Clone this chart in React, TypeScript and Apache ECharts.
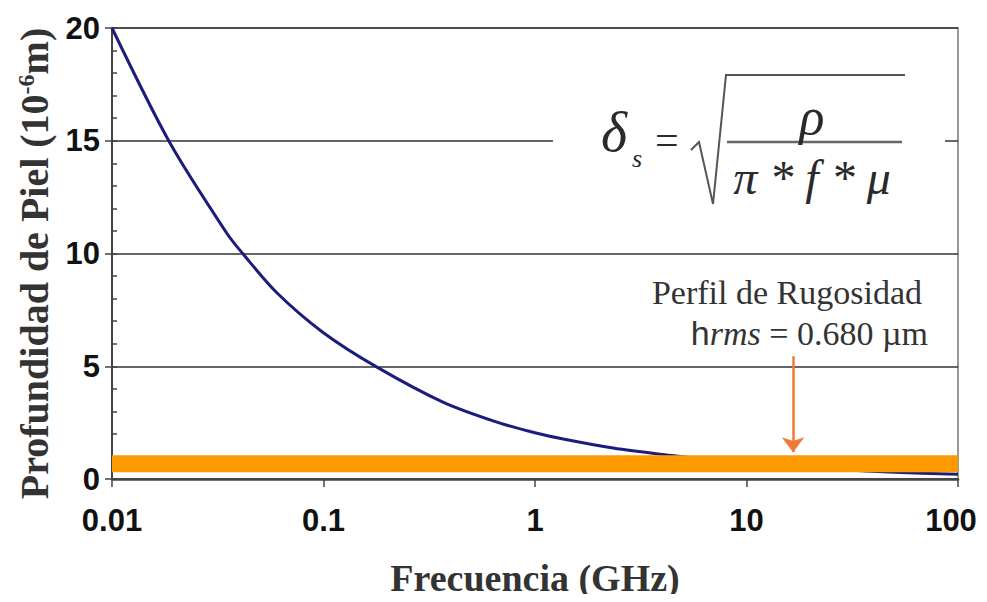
import React, { useEffect, useRef } from "react";
import * as echarts from "echarts";

// Frequency (GHz) and skin depth (10^-6 m) along the plotted curve
const frequencyGHz = [0.01, 0.0188, 0.0349, 0.0415, 0.06, 0.0995, 0.179, 0.367, 0.661, 1.0, 1.36, 2.34, 3.9, 10, 27, 50, 100];
const skinDepth = [20, 14.9, 10.9, 10.0, 8.27, 6.5, 4.96, 3.41, 2.52, 2.05, 1.77, 1.37, 1.1, 0.68, 0.42, 0.3, 0.21];

// Roughness profile level (µm) drawn as a horizontal band
const roughnessRange = [0.01, 100];
const roughnessLevel = 0.68;

// Arrow pointing at the roughness band
const arrowFreq = 16.6;
const arrowFrom = 5.44;
const arrowTo = 1.19;

const xTickLabels = ["0.01", "0.1", "1", "10", "100"];
const yTicks = [0, 5, 10, 15, 20];

const App: React.FC = () => {
  const ref = useRef<HTMLDivElement>(null);

  useEffect(() => {
    if (!ref.current) return;
    const chart = echarts.init(ref.current, undefined, { renderer: "svg" });

    const curve = frequencyGHz.map((f, i) => [f, skinDepth[i]]);
    const band = roughnessRange.map((f) => [f, roughnessLevel]);

    const serif = "'Liberation Serif', 'Times New Roman', serif";
    const sans = "'Liberation Sans', Arial, sans-serif";
    const tickFont = { fontFamily: sans, fontWeight: "bold", fontSize: 31, color: "#111" };

    chart.setOption({
      animation: false,
      backgroundColor: "#ffffff",
      grid: {
        left: 112,
        right: 29,
        top: 28,
        bottom: 122,
        show: true,
        borderColor: "#7a7a7a",
        borderWidth: 1.5,
      },
      xAxis: {
        type: "log",
        logBase: 10,
        min: 0.01,
        max: 100,
        name: "Frecuencia (GHz)",
        nameLocation: "middle",
        nameGap: 80,
        nameTextStyle: { fontFamily: serif, fontWeight: "bold", fontSize: 38, color: "#333" },
        axisLine: { show: true, lineStyle: { color: "#444", width: 2.5 } },
        axisTick: { show: true, inside: false, length: 8, lineStyle: { color: "#444", width: 1.5 } },
        minorTick: { show: false },
        splitLine: { show: false },
        axisLabel: {
          margin: 26,
          ...tickFont,
          formatter: (v: number) => {
            const i = Math.round(Math.log10(v)) + 2;
            // last label sits a little inside the right edge
            return i === xTickLabels.length - 1 ? `{r|${xTickLabels[i]}}` : `{n|${xTickLabels[i]}}`;
          },
          rich: {
            n: { ...tickFont },
            r: { ...tickFont, padding: [0, 14, 0, 0] },
          },
        },
      },
      yAxis: [
        {
          type: "value",
          min: yTicks[0],
          max: yTicks[yTicks.length - 1],
          interval: 5,
          name: "{a|Profundidad de Piel (10}{b|-6}{a|m)}",
          nameLocation: "middle",
          nameGap: 54,
          nameRotate: 90,
          nameTextStyle: {
            padding: [0, 20, 0, 0],
            rich: {
              a: { fontFamily: serif, fontWeight: "bold", fontSize: 40, color: "#333" },
              b: { fontFamily: serif, fontWeight: "bold", fontSize: 24, color: "#333", verticalAlign: "top", padding: [0, 0, 18, 0] },
            },
          },
          axisLine: { show: true, lineStyle: { color: "#444", width: 2 } },
          axisTick: { show: true, inside: false, length: 7, lineStyle: { color: "#444", width: 1.5 } },
          splitLine: { show: true, lineStyle: { color: "#333", width: 1.6 } },
          axisLabel: { margin: 12, ...tickFont },
        },
        {
          // unit minor ticks drawn on the inner side of the vertical axis
          type: "value",
          position: "left",
          min: 0,
          max: 20,
          interval: 1,
          axisLine: { show: false },
          axisTick: { show: true, inside: true, length: 5, lineStyle: { color: "#444", width: 1.5 } },
          axisLabel: { show: false },
          splitLine: { show: false },
        },
      ],
      series: [
        {
          type: "line",
          name: "rugosidad",
          data: band,
          symbol: "none",
          z: 3,
          lineStyle: { color: "#ff9900", width: 17, cap: "butt" },
          markLine: {
            silent: true,
            symbol: ["none", "arrow"],
            symbolSize: [17, 15],
            label: { show: false },
            lineStyle: { color: "#f07a35", width: 2.5, type: "solid" },
            data: [[{ coord: [arrowFreq, arrowFrom] }, { coord: [arrowFreq, arrowTo] }]],
          },
        },
        {
          type: "line",
          name: "profundidad",
          data: curve,
          symbol: "none",
          smooth: 0.3,
          z: 2,
          lineStyle: { color: "#1c1c7c", width: 3 },
        },
      ],
      graphic: [
        // white box that holds the skin-depth formula
        { type: "rect", shape: { x: 553, y: 134, width: 392, height: 14 }, style: { fill: "#ffffff" }, z: 10 },
        { type: "text", x: 601, y: 132, style: { text: "δ", font: `italic 56px ${serif}`, fill: "#2a2a2a", verticalAlign: "middle" }, z: 11 },
        { type: "text", x: 632, y: 158, style: { text: "s", font: `italic 26px ${serif}`, fill: "#2a2a2a", verticalAlign: "middle" }, z: 11 },
        { type: "text", x: 655, y: 140, style: { text: "=", font: `42px ${serif}`, fill: "#2a2a2a", verticalAlign: "middle" }, z: 11 },
        {
          type: "polyline",
          shape: { points: [[691, 150], [699, 142], [713, 204], [726, 75], [905, 75]] },
          style: { stroke: "#555", lineWidth: 2, fill: "none" },
          z: 11,
        },
        { type: "line", shape: { x1: 727, y1: 142, x2: 902, y2: 142 }, style: { stroke: "#666", lineWidth: 2.5 }, z: 11 },
        { type: "text", x: 812, y: 116, style: { text: "ρ", font: `italic 52px ${serif}`, fill: "#2a2a2a", align: "center", verticalAlign: "middle" }, z: 11 },
        { type: "text", x: 812, y: 177, style: { text: "π * f * μ", font: `italic 48px ${serif}`, fill: "#2a2a2a", align: "center", verticalAlign: "middle" }, z: 11 },
        // roughness annotation
        {
          type: "text",
          x: 922,
          y: 292,
          style: { text: "Perfil de Rugosidad", font: `34px ${serif}`, fill: "#333", align: "right", verticalAlign: "middle" },
          z: 11,
        },
        {
          type: "text",
          x: 928,
          y: 333,
          style: {
            text: "{h|h}{i|rms}{n| = 0.680 µm}",
            align: "right",
            verticalAlign: "middle",
            rich: {
              h: { font: `34px ${sans}`, fill: "#333" },
              i: { font: `italic 34px ${serif}`, fill: "#333" },
              n: { font: `34px ${serif}`, fill: "#333" },
            },
          },
          z: 11,
        },
      ],
    });

    return () => chart.dispose();
  }, []);

  return <div ref={ref} style={{ width: 987, height: 602, margin: -8 }} />;
};

export default App;
